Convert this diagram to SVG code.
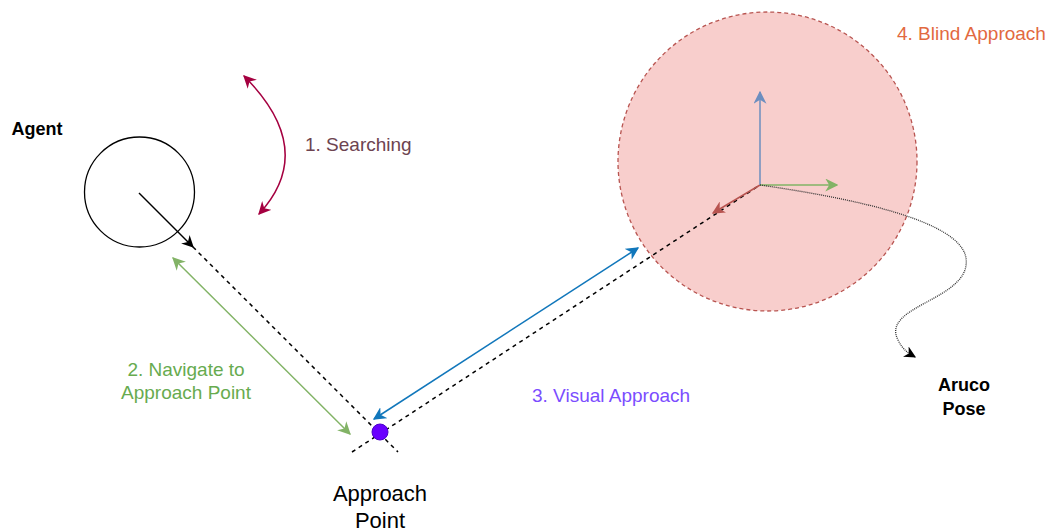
<svg xmlns="http://www.w3.org/2000/svg" width="1047" height="531" viewBox="0 0 1047 531">
<defs>
<style>
.t{font-family:"Liberation Sans",Arial,sans-serif;font-size:19px}
.b{font-weight:bold;font-size:18px}
.dash{fill:none;stroke:#000;stroke-width:1.5;stroke-dasharray:4 4}
</style>
<marker id="aBlack" viewBox="0 0 10 10" refX="9" refY="5" markerWidth="12" markerHeight="12" markerUnits="userSpaceOnUse" orient="auto-start-reverse"><path d="M0,0 L10,5 L0,10 L3,5 Z" fill="#000"/></marker>
<marker id="aGreen" viewBox="0 0 10 10" refX="9" refY="5" markerWidth="13" markerHeight="13" markerUnits="userSpaceOnUse" orient="auto-start-reverse"><path d="M0,0 L10,5 L0,10 L3,5 Z" fill="#82b366"/></marker>
<marker id="aBlue" viewBox="0 0 10 10" refX="9" refY="5" markerWidth="13" markerHeight="13" markerUnits="userSpaceOnUse" orient="auto-start-reverse"><path d="M0,0 L10,5 L0,10 L3,5 Z" fill="#1177bb"/></marker>
<marker id="aCrimson" viewBox="0 0 10 10" refX="9" refY="5" markerWidth="13" markerHeight="13" markerUnits="userSpaceOnUse" orient="auto-start-reverse"><path d="M0,0 L10,5 L0,10 L3,5 Z" fill="#a50040"/></marker>
<marker id="aRed" viewBox="0 0 10 10" refX="9" refY="5" markerWidth="13" markerHeight="13" markerUnits="userSpaceOnUse" orient="auto"><path d="M0,0 L10,5 L0,10 L3,5 Z" fill="#b85450"/></marker>
<marker id="aAxBlue" viewBox="0 0 10 10" refX="9" refY="5" markerWidth="13" markerHeight="13" markerUnits="userSpaceOnUse" orient="auto"><path d="M0,0 L10,5 L0,10 L3,5 Z" fill="#6c8ebf"/></marker>
<marker id="aAxGreen" viewBox="0 0 10 10" refX="9" refY="5" markerWidth="13" markerHeight="13" markerUnits="userSpaceOnUse" orient="auto"><path d="M0,0 L10,5 L0,10 L3,5 Z" fill="#82b366"/></marker>
</defs>

<g id="blind-zone">
<circle cx="767.5" cy="161.5" r="149.5" fill="#f8cecc" stroke="#b85450" stroke-width="1.3" stroke-dasharray="4 3"/>
</g>

<g id="agent">
<circle cx="139.5" cy="192" r="55" fill="none" stroke="#000" stroke-width="1.3"/>
</g>

<g id="connectors">
<line class="dash" x1="193" y1="247" x2="398" y2="452"/>
<line class="dash" x1="352" y1="452" x2="760" y2="185"/>
<line x1="139" y1="193" x2="193" y2="247" stroke="#000" stroke-width="1.5" marker-end="url(#aBlack)"/>
<path d="M244,76 Q318,150 259,214" fill="none" stroke="#a50040" stroke-width="1.5" marker-start="url(#aCrimson)" marker-end="url(#aCrimson)"/>
<line x1="173" y1="258" x2="350" y2="434" stroke="#82b366" stroke-width="1.5" marker-start="url(#aGreen)" marker-end="url(#aGreen)"/>
<line x1="374" y1="419" x2="638" y2="248" stroke="#1177bb" stroke-width="1.5" marker-start="url(#aBlue)" marker-end="url(#aBlue)"/>
<line x1="760" y1="185" x2="713" y2="213" stroke="#b85450" stroke-width="1.5" marker-end="url(#aRed)"/>
<line x1="760" y1="185" x2="760" y2="92" stroke="#6c8ebf" stroke-width="1.5" marker-end="url(#aAxBlue)"/>
<line x1="760" y1="185" x2="837" y2="185" stroke="#82b366" stroke-width="1.5" marker-end="url(#aAxGreen)"/>
<path d="M760,185 C850,198 960,220 966,258 C972,300 880,305 898,340 C903,350 908,353 915,357" fill="none" stroke="#333" stroke-width="1.3" stroke-dasharray="1 1" marker-end="url(#aBlack)"/>
</g>

<g id="approach-point">
<circle cx="380" cy="432" r="8" fill="#6a00ff" stroke="#4a00cc" stroke-width="1"/>
</g>

<g id="labels">
<text class="t b" x="37" y="135" text-anchor="middle" fill="#000">Agent</text>
<text class="t" x="305" y="151" fill="#6d4350">1. Searching</text>
<text class="t" x="186" y="376" text-anchor="middle" fill="#67ab4f">2. Navigate to</text>
<text class="t" x="186" y="399" text-anchor="middle" fill="#67ab4f">Approach Point</text>
<text class="t" x="532" y="402" fill="#7b4dff">3. Visual Approach</text>
<text class="t" x="897" y="40" fill="#e2693f">4. Blind Approach</text>
<text class="t" x="380" y="501" text-anchor="middle" fill="#000" style="font-size:22px">Approach</text>
<text class="t" x="380" y="528" text-anchor="middle" fill="#000" style="font-size:22px">Point</text>
<text class="t b" x="964" y="391" text-anchor="middle" fill="#000">Aruco</text>
<text class="t b" x="964" y="415" text-anchor="middle" fill="#000">Pose</text>
</g>
</svg>
